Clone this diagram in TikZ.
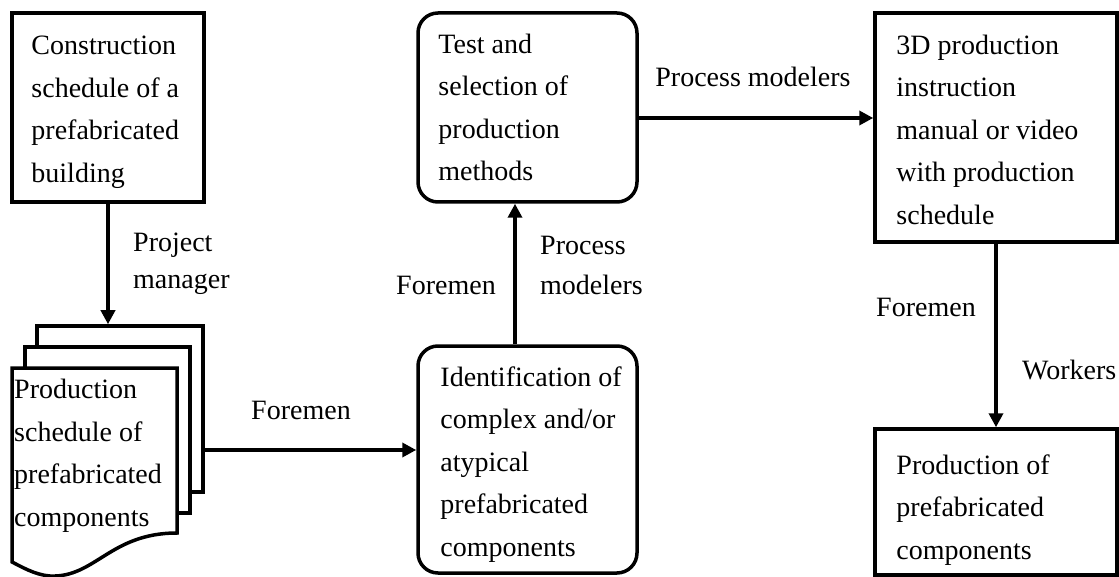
\documentclass[tikz,border=0pt]{standalone}
\usepackage{fontspec}
\setmainfont{Liberation Serif}
\usetikzlibrary{arrows.meta}
\tikzset{
  box/.style={draw, line width=3.5pt, fill=white, inner sep=0pt},
  rbox/.style={box, rounded corners=20pt},
  txt/.style={align=left, inner sep=0pt, anchor=west, font=\fontsize{28}{42.5}\selectfont},
  lbl/.style={inner sep=0pt, font=\fontsize{28}{42}\selectfont},
  arr/.style={line width=3.5pt, -{Triangle[length=14pt,width=14pt]}},
}
\begin{document}
\begin{tikzpicture}[x=1pt,y=-1pt]
\useasboundingbox (0,0) rectangle (1119,577);
% box 1
\node[box, minimum width=192pt, minimum height=189pt] (b1) at (108,107.5) {};
\node[txt] (t1) at ([xshift=21pt,yshift=-5pt]b1.west) {Construction\\schedule of a\\prefabricated\\building};
% documents
\node[box, minimum width=166pt, minimum height=166pt] (docs) at (120,409) {};
\node[box, minimum width=165pt, minimum height=166pt] (docmid) at (107.5,430) {};
\draw[line width=3.5pt, fill=white] (12,368) -- (177,368) -- (177,533)
  .. controls (110,533) and (95,578) .. (50,576)
  .. controls (35,575) and (20,566) .. (12,562) -- cycle;
\node[txt, anchor=north west] (tdoc) at (14,379) {Production\\schedule of\\prefabricated\\components};
% identification
\node[rbox, minimum width=219pt, minimum height=227pt] (ident) at (527.5,459.5) {};
\node[txt] (t3) at ([xshift=24pt,yshift=-5pt]ident.west) {Identification of\\complex and/or\\atypical\\prefabricated\\components};
% test
\node[rbox, minimum width=219pt, minimum height=189pt] (test) at (527.5,107.5) {};
\node[txt] (t4) at ([xshift=22pt]test.west) {Test and\\selection of\\production\\methods};
% 3D
\node[box, minimum width=242pt, minimum height=229pt] (d3) at (996,127.5) {};
\node[txt] (t5) at ([xshift=23pt,yshift=-2pt]d3.west) {3D production\\instruction\\manual or video\\with production\\schedule};
% production
\node[box, minimum width=242pt, minimum height=146pt] (prod) at (996,502) {};
\node[txt] (t6) at ([xshift=23pt,yshift=-8pt]prod.west) {Production of\\prefabricated\\components};
% connectors
\draw[arr] (b1.south) -- (b1.south |- docs.north);
\draw[arr] ([yshift=-41pt]docs.east) coordinate (p1) -- (p1 -| ident.west);
\draw[arr] ([xshift=-12.5pt]ident.north) coordinate (p2) -- (p2 |- test.south);
\draw[arr] ([yshift=-10.5pt]test.east) coordinate (p3) -- (p3 -| d3.west);
\draw[arr] (d3.south) -- (prod.north);
% labels
\node[lbl, anchor=west] (l1) at (133,245) {Project};
\node[lbl, anchor=west] (l2) at (133,284) {manager};
\node[lbl] (l3) at (301,410) {Foremen};
\node[lbl] (l4) at (446,285) {Foremen};
\node[lbl, anchor=west] (l5) at (540,245) {Process};
\node[lbl, anchor=west] (l6) at (540,285) {modelers};
\node[lbl] (l7) at (753,77) {Process modelers};
\node[lbl] (l8) at (926,307) {Foremen};
\node[lbl, anchor=west] (l9) at (1022,370) {Workers};
\end{tikzpicture}
\end{document}
